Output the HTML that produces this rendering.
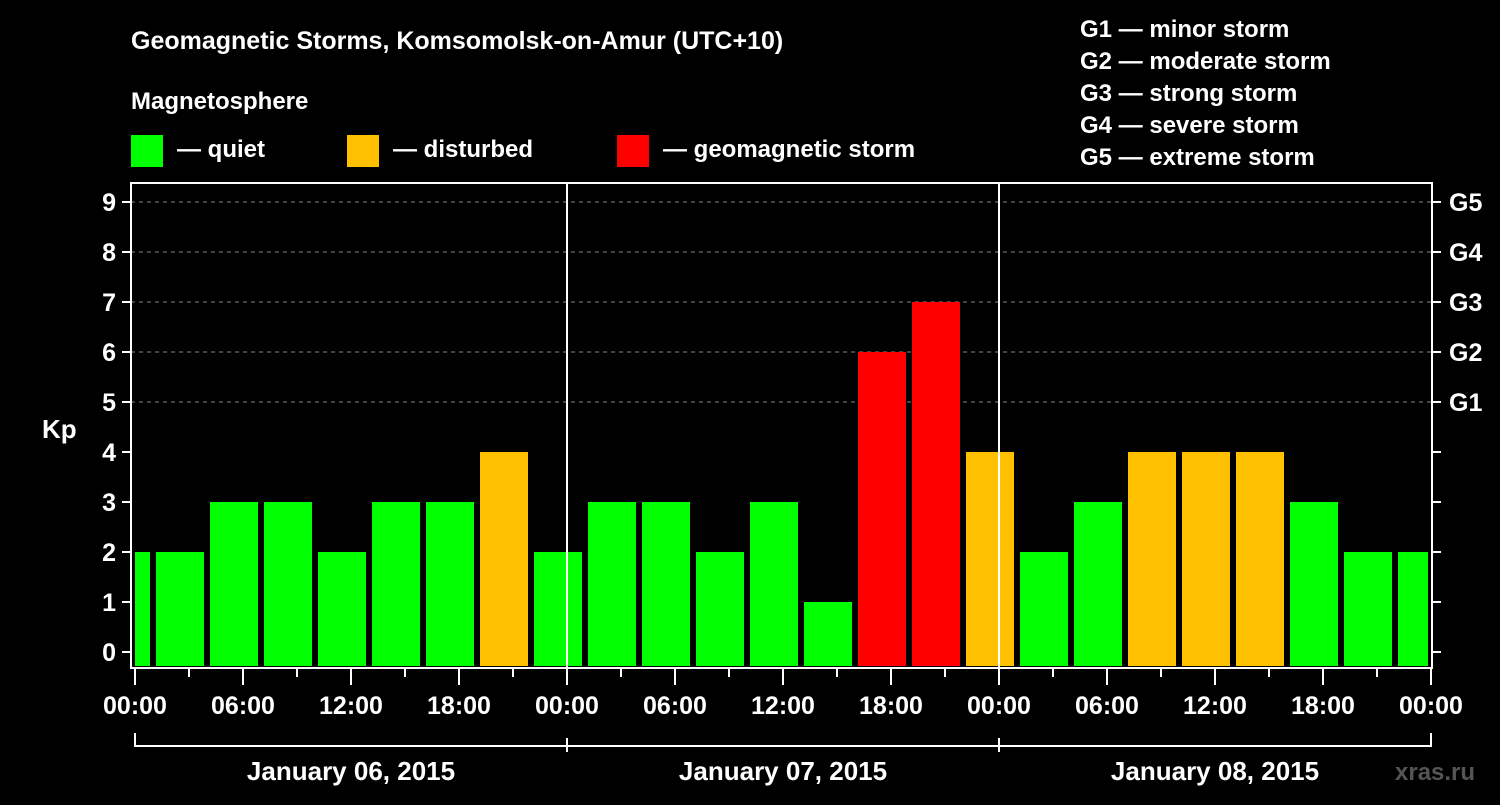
<!DOCTYPE html>
<html><head><meta charset="utf-8"><style>
body{margin:0;background:#000;width:1500px;height:800px;overflow:hidden;font-family:"Liberation Sans",sans-serif;}
svg text{font-family:"Liberation Sans",sans-serif;font-weight:bold;fill:#fff;}
</style></head><body>
<svg id="chart" width="1500" height="800" xmlns="http://www.w3.org/2000/svg">
<text x="131" y="49" font-size="25">Geomagnetic Storms, Komsomolsk-on-Amur (UTC+10)</text>
<text x="131" y="109" font-size="24">Magnetosphere</text>
<g><rect x="131" y="135" width="32" height="32" fill="#00ff00"/><text x="177" y="157" font-size="24">— quiet</text></g>
<g><rect x="347" y="135" width="32" height="32" fill="#ffc000"/><text x="393" y="157" font-size="24">— disturbed</text></g>
<g><rect x="617" y="135" width="32" height="32" fill="#ff0000"/><text x="663" y="157" font-size="24">— geomagnetic storm</text></g>
<g font-size="24">
<text x="1080" y="37">G1 — minor storm</text>
<text x="1080" y="69">G2 — moderate storm</text>
<text x="1080" y="101">G3 — strong storm</text>
<text x="1080" y="133">G4 — severe storm</text>
<text x="1080" y="165">G5 — extreme storm</text>
</g>
<g id="grid"></g><g id="bars"></g><g id="axes"></g>
<text x="42" y="438" font-size="26">Kp</text>
<text x="1395" y="780" font-size="24" style="fill:#555">xras.ru</text>
</svg>
<script>
const kpValues=[2,2,3,3,2,3,3,4,2,3,3,2,3,1,6,7,4,2,3,4,4,4,3,2,2];
const yTicks=[0,1,2,3,4,5,6,7,8,9];
const gLabels=["G1","G2","G3","G4","G5"];
const xLabels=["00:00","06:00","12:00","18:00","00:00","06:00","12:00","18:00","00:00","06:00","12:00","18:00","00:00"];
const dayLabels=["January 06, 2015","January 07, 2015","January 08, 2015"];
const NS="http://www.w3.org/2000/svg";
const X0=135,HPX=18,Y0=652,UPX=50,TOP=183,BOT=668,RIGHT=1432;
const xs=h=>X0+h*HPX, ys=v=>Y0-v*UPX;
function mk(tag,at,p){const e=document.createElementNS(NS,tag);for(const k in at)e.setAttribute(k,at[k]);p.appendChild(e);return e;}
const grid=document.getElementById('grid'),bars=document.getElementById('bars'),axes=document.getElementById('axes');
const color=v=>v>=5?"#ff0000":v>=4?"#ffc000":"#00ff00";
// gridlines at 5..9
for(let v=5;v<=9;v++){const l=mk('line',{x1:131,x2:RIGHT,y1:ys(v),y2:ys(v),stroke:'#888','stroke-width':1,'stroke-dasharray':'4,4'},grid);

}
kpValues.forEach((v,i)=>{
 let s=-2+3*i,e=s+3;
 let a=Math.max(xs(s)+3,xs(0)),b=Math.min(xs(e)-3,xs(72)-3);
 const r=mk('rect',{x:a,y:ys(v),width:b-a,height:BOT-2-ys(v),fill:color(v)},bars);
 
 
});
// day separators
[24,48].forEach(h=>{const l=mk('line',{x1:xs(h),x2:xs(h),y1:TOP,y2:BOT,stroke:'#fff','stroke-width':2},axes);

});
// frame
const fr=mk('path',{d:`M131 ${TOP}H${RIGHT}V${BOT}H131Z`,fill:'none',stroke:'#fff','stroke-width':2},axes);


yTicks.forEach(v=>{
 mk('line',{x1:122,x2:131,y1:ys(v),y2:ys(v),stroke:'#fff','stroke-width':2},axes);
 mk('line',{x1:RIGHT,x2:RIGHT+9,y1:ys(v),y2:ys(v),stroke:'#fff','stroke-width':2},axes);
 const t=mk('text',{x:116,y:ys(v)+9,'font-size':25,'text-anchor':'end'},axes);t.textContent=v;
 
 
});
gLabels.forEach((g,i)=>{const t=mk('text',{x:1449,y:ys(5+i)+9,'font-size':25},axes);t.textContent=g;

});
for(let h=0;h<=72;h+=3){const maj=h%6==0;
 mk('line',{x1:xs(h),x2:xs(h),y1:BOT,y2:BOT+(maj?17:9),stroke:'#fff','stroke-width':2},axes);}
xLabels.forEach((s,i)=>{const t=mk('text',{x:xs(i*6),y:714,'font-size':25,'text-anchor':'middle'},axes);t.textContent=s;

});
const br=mk('path',{d:`M${xs(0)} 733V746H${xs(72)}V733M${xs(24)} 738V752M${xs(48)} 738V752`,fill:'none',stroke:'#fff','stroke-width':2},axes);


dayLabels.forEach((s,i)=>{const t=mk('text',{x:xs(12+24*i),y:780,'font-size':26,'text-anchor':'middle'},axes);t.textContent=s;

});
</script>
</body></html>
